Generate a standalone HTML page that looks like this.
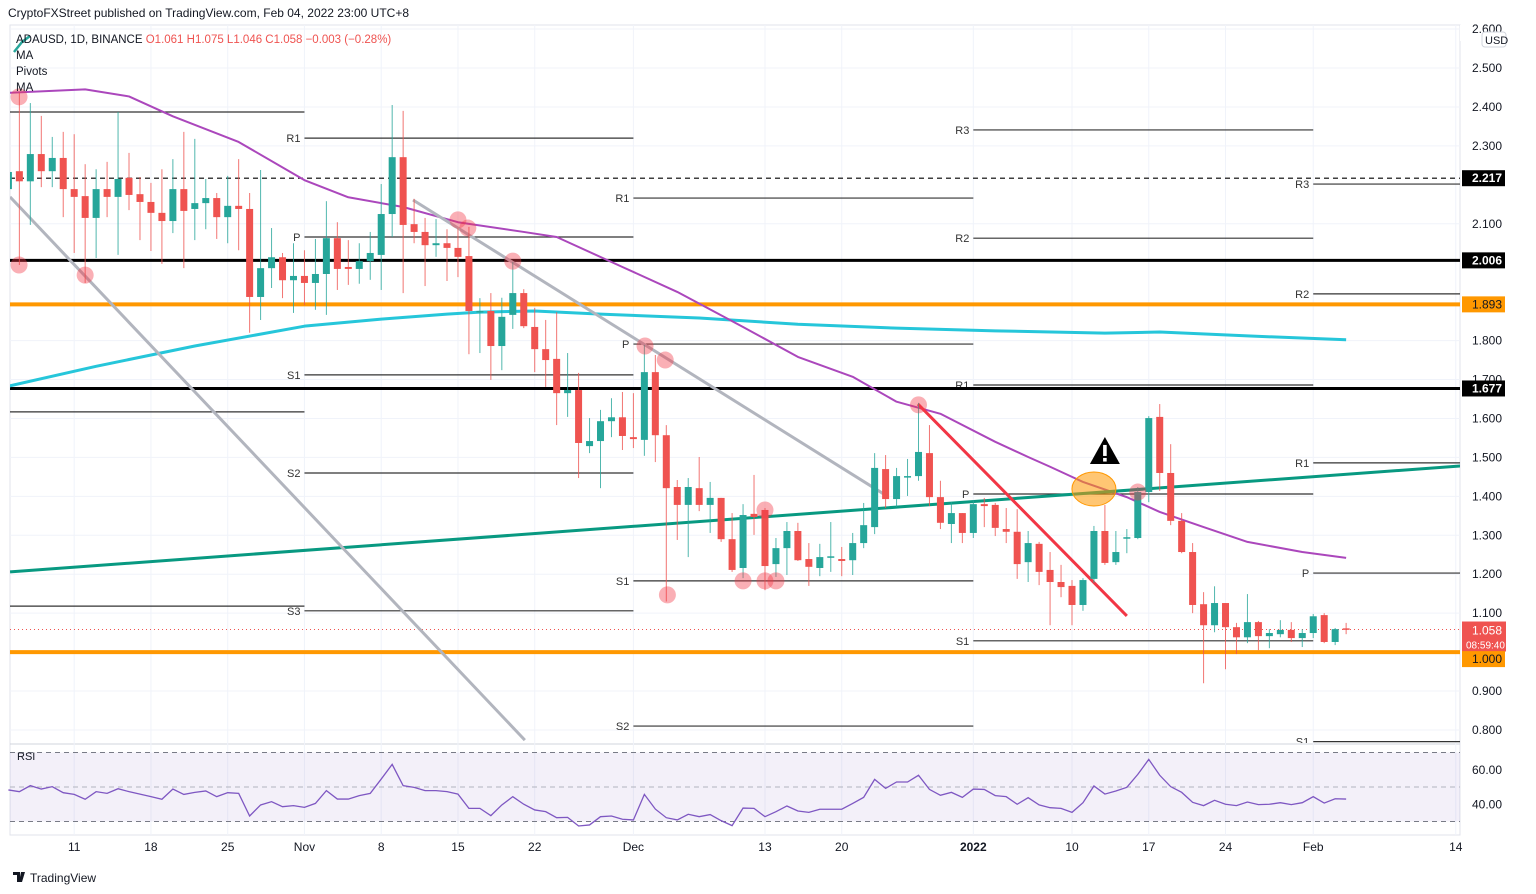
<!DOCTYPE html>
<html><head><meta charset="utf-8"><style>
body{margin:0;background:#fff;font-family:"Liberation Sans",sans-serif;}
svg{display:block}
</style></head><body>
<svg id="c" width="1536" height="894" xmlns="http://www.w3.org/2000/svg" font-family="Liberation Sans, sans-serif">
<rect width="1536" height="894" fill="#fff"/>
<text x="8" y="17" font-size="12" fill="#131722">CryptoFXStreet published on TradingView.com, Feb 04, 2022 23:00 UTC+8</text>
<rect x="10" y="25" width="1450" height="810" fill="none" stroke="#e0e3eb"/>
<line x1="1460" y1="25" x2="1460" y2="835" stroke="#e0e3eb"/>
<line x1="10" y1="744" x2="1460" y2="744" stroke="#d1d4dc"/>
<g id="grid"></g>
<g id="main" clip-path="url(#clipMain)"></g>
<g id="rsi"></g>
<g id="axis"></g>
<defs><clipPath id="clipMain"><rect x="10" y="25" width="1450" height="718"/></clipPath></defs>
<g>
<path d="M14 52 L22 42 L30 36" stroke="#26a69a" stroke-width="2.5" fill="none"/>
<text x="16" y="43" font-size="11.5" fill="#131722">ADAUSD, 1D, BINANCE <tspan fill="#ef5350">O1.061 H1.075 L1.046 C1.058 −0.003 (−0.28%)</tspan></text>
<text x="16" y="59" font-size="11.5" fill="#131722">MA</text>
<text x="16" y="75" font-size="11.5" fill="#131722">Pivots</text>
<text x="16" y="91" font-size="11.5" fill="#131722">MA</text>
</g>
<g>
<path d="M13 872 h7 v10 h-3 v-7 h-4z M21 872 h4 l-3 10 h-3z" fill="#131722"/>
<text x="30" y="882" font-size="12" fill="#131722">TradingView</text>
</g>
</svg>
<script>
const opens=[2.189,2.235,2.209,2.279,2.235,2.269,2.189,2.171,2.115,2.189,2.169,2.218,2.176,2.156,2.128,2.107,2.189,2.138,2.153,2.166,2.117,2.146,2.138,1.912,1.986,2.014,1.955,1.966,1.948,1.971,2.063,1.989,1.984,2.004,2.02,2.125,2.271,2.099,2.079,2.045,2.05,2.038,2.017,1.874,1.876,1.786,1.866,1.922,1.835,1.778,1.753,1.665,1.673,1.529,1.542,1.593,1.603,1.552,1.545,1.719,1.557,1.424,1.378,1.421,1.378,1.396,1.29,1.216,1.355,1.365,1.226,1.267,1.311,1.239,1.216,1.244,1.239,1.236,1.28,1.321,1.47,1.393,1.45,1.452,1.511,1.398,1.329,1.357,1.306,1.38,1.378,1.316,1.309,1.231,1.278,1.211,1.18,1.17,1.121,1.188,1.311,1.231,1.292,1.293,1.411,1.604,1.46,1.337,1.257,1.123,1.069,1.126,1.064,1.038,1.077,1.041,1.046,1.057,1.036,1.049,1.095,1.026,1.061];
const highs=[2.25,2.436,2.41,2.377,2.323,2.336,2.33,2.253,2.24,2.259,2.387,2.282,2.22,2.205,2.24,2.266,2.336,2.318,2.215,2.179,2.223,2.266,2.179,2.238,2.089,2.025,2.05,2.032,2.061,2.158,2.104,2.058,2.05,2.079,2.202,2.405,2.39,2.164,2.115,2.112,2.086,2.089,2.092,1.909,1.922,1.91,2.002,1.932,1.884,1.853,1.873,1.768,1.717,1.601,1.622,1.652,1.668,1.665,1.789,1.763,1.583,1.442,1.447,1.501,1.437,1.396,1.357,1.38,1.455,1.37,1.293,1.334,1.332,1.28,1.278,1.334,1.27,1.306,1.383,1.511,1.506,1.473,1.496,1.64,1.583,1.44,1.385,1.357,1.39,1.396,1.383,1.37,1.367,1.311,1.283,1.257,1.224,1.185,1.19,1.324,1.378,1.311,1.316,1.424,1.606,1.637,1.534,1.357,1.28,1.154,1.169,1.126,1.075,1.149,1.08,1.059,1.082,1.077,1.059,1.098,1.1,1.062,1.075];
const lows=[2.16,1.994,2.097,2.194,2.194,2.117,2.025,1.948,2.012,2.117,2.02,2.135,2.058,2.03,1.997,2.076,1.986,2.058,2.086,2.061,2.05,2.032,1.82,1.853,1.935,1.909,1.871,1.891,1.879,1.866,1.93,1.943,1.946,1.956,1.93,2.066,1.922,2.05,1.94,2.015,1.953,1.963,1.765,1.768,1.699,1.724,1.83,1.832,1.719,1.681,1.583,1.604,1.447,1.511,1.421,1.552,1.519,1.524,1.504,1.488,1.13,1.288,1.244,1.362,1.306,1.283,1.206,1.19,1.301,1.159,1.193,1.198,1.234,1.17,1.195,1.206,1.195,1.198,1.267,1.303,1.37,1.373,1.401,1.44,1.375,1.316,1.28,1.28,1.293,1.321,1.298,1.28,1.188,1.18,1.172,1.069,1.141,1.069,1.106,1.178,1.224,1.224,1.254,1.29,1.385,1.414,1.326,1.254,1.1,0.92,1.051,0.956,0.995,1.023,1.005,1.01,1.038,1.026,1.013,1.036,1.023,1.018,1.046];
const closes=[2.233,2.209,2.279,2.235,2.269,2.189,2.169,2.115,2.189,2.169,2.215,2.174,2.156,2.128,2.107,2.189,2.133,2.153,2.166,2.117,2.146,2.138,1.912,1.986,2.014,1.955,1.966,1.948,1.971,2.063,1.984,1.984,2.004,2.025,2.125,2.271,2.097,2.079,2.045,2.05,2.038,2.015,1.876,1.876,1.786,1.861,1.922,1.837,1.778,1.75,1.665,1.673,1.537,1.542,1.593,1.603,1.555,1.547,1.719,1.557,1.421,1.378,1.424,1.378,1.396,1.29,1.211,1.352,1.347,1.221,1.267,1.311,1.236,1.219,1.244,1.246,1.234,1.28,1.326,1.473,1.393,1.452,1.452,1.514,1.398,1.332,1.357,1.306,1.38,1.375,1.319,1.309,1.226,1.28,1.206,1.18,1.167,1.121,1.185,1.311,1.229,1.257,1.295,1.411,1.601,1.46,1.337,1.257,1.121,1.069,1.126,1.064,1.038,1.077,1.041,1.049,1.057,1.036,1.049,1.092,1.026,1.059,1.058];
const rsiVals=[48.3,47.3,50.8,48.8,50.2,46.7,45.7,42.9,47.3,46.3,49,47.3,45.9,44.4,42.9,48.8,45.7,46.9,47.7,44.4,46.7,46.3,33.2,39.6,41.5,38.6,39.2,38.2,40.5,47.9,43,43,45,46.3,54.6,63.1,50.8,49.8,47.9,47.9,47.3,45.9,37.6,37.6,33.4,39.6,44.4,40,36.7,35.7,32.2,32.4,27.4,28,32.8,33.2,31.3,30.9,45.7,37.2,32.2,30.9,34.2,32.8,34,30.5,27.6,37.8,37.6,32.8,35.7,39,36.1,35.3,37.1,37.1,37.1,40.5,44,54.4,49.2,52.9,52.9,56.8,48.6,45.2,46.9,44,48.8,48.6,45,44.4,40,43.8,39.6,38,37.6,35.3,40.9,50.6,45.9,47.7,49.8,57.3,66,56.8,50.2,46.9,41.1,39.2,42.3,40,39.2,41.3,39.8,40,40.9,39.8,40.9,44.4,40.7,43.2,43];
const ma50Days=[-1,7,11,15,21,27,31,36,41,47,50,56,61,67,72,77,81,85,90,93,95,97,98,102,105,109,113,118,122];
const ma50Vals=[2.435,2.445,2.427,2.376,2.31,2.212,2.168,2.143,2.104,2.079,2.066,1.989,1.925,1.835,1.758,1.707,1.643,1.612,1.54,1.501,1.476,1.45,1.437,1.398,1.36,1.321,1.283,1.257,1.242];
const ma200Days=[0,8,17,27,34,40,43,48,54,63,72,81,90,100,105,113,122];
const ma200Vals=[1.683,1.734,1.786,1.837,1.855,1.868,1.873,1.876,1.868,1.858,1.842,1.832,1.825,1.819,1.822,1.812,1.802];
const priceTicks=[2.6,2.5,2.4,2.3,2.1,1.8,1.7,1.6,1.5,1.4,1.3,1.2,1.1,0.9,0.8];
const dateIdx=[6,13,20,27,34,41,48,57,69,76,88,97,104,111,119,132];
const dateLabels=["11","18","25","Nov","8","15","22","Dec","13","20","2022","10","17","24","Feb","14"];
const rsiTicks=[60,40];
const keyLevels=[2.217,2.006,1.893,1.677,1.0];
const keyColors=["#000","#000","#ff9800","#000","#ff9800"];
const pivotStart=[-1,27,57,88,119];
const pivotEnd=[27,57,88,119,133];
const pivotNames=[["","",""],["R1","P","S1","S2","S3"],["R1","P","S1","S2"],["R3","R2","R1","P","S1"],["R3","R2","R1","P","S1"]];
const pivotVals=[[2.387,1.617,1.118],[2.320,2.066,1.712,1.460,1.106],[2.166,1.791,1.183,0.810],[2.341,2.063,1.686,1.406,1.029],[2.202,1.920,1.486,1.203,0.77]];
const circDays=[0.97,0.97,7,41,41.9,46,58.06,59.9,83,60.1,67,69,69,70,103];
const circVals=[2.426,1.994,1.968,2.110,2.089,2.004,1.786,1.750,1.635,1.147,1.183,1.365,1.183,1.183,1.411];
const lastPrice=1.058;

const X=d=>8.4+d*10.965;
const Y=p=>68+(2.5-p)*389.4;
const RY=v=>787-(v-50)*1.725;
const NS="http://www.w3.org/2000/svg";
function mk(tag,parent,attrs){const e=document.createElementNS(NS,tag);for(const k in attrs)e.setAttribute(k,attrs[k]);parent.appendChild(e);return e;}
const grid=document.getElementById('grid'),main=document.getElementById('main'),rsi=document.getElementById('rsi'),axis=document.getElementById('axis');

dateIdx.forEach(d=>{const l=mk('line',grid,{x1:X(d),x2:X(d),y1:25,y2:835,stroke:'#f0f3fa'});

});
priceTicks.forEach(p=>{const l=mk('line',grid,{x1:10,x2:1460,y1:Y(p),y2:Y(p),stroke:'#f0f3fa'});

});

pivotVals.forEach((vals,b)=>{vals.forEach((v,k)=>{
 const x1=Math.max(10,X(pivotStart[b])),x2=X(pivotEnd[b]);
 const l=mk('line',main,{x1:x1,x2:x2,y1:Y(v),y2:Y(v),stroke:'#333','stroke-width':1.2});
 
 
 const nm=pivotNames[b][k];
 if(nm){const t=mk('text',main,{x:x1-4,y:Y(v)+4,'font-size':11,fill:'#333','text-anchor':'end'});t.textContent=nm;
 
 }
});});

keyLevels.forEach((p,i)=>{const w=(keyColors[i]==='#000')?3:4;
 const l=mk('line',main,{x1:10,x2:1460,y1:Y(p),y2:Y(p),stroke:keyColors[i],'stroke-width':(i===0?1.2:w),'stroke-dasharray':(i===0?'5,4':'none')});
 
 });
const lp=mk('line',main,{x1:10,x2:1460,y1:Y(lastPrice),y2:Y(lastPrice),stroke:'#ef5350','stroke-width':1,'stroke-dasharray':'1,3'});



function poly(days,vals,color,w,name){const pts=days.map((d,i)=>X(d)+','+Y(vals[i])).join(' ');
 const p=mk('polyline',main,{points:pts,fill:'none',stroke:color,'stroke-width':w,'stroke-linejoin':'round'});
 
 }
poly(ma200Days,ma200Vals,'#26c6da',3,'ma-200-line');
poly(ma50Days,ma50Vals,'#ab47bc',2,'ma-50-line');

function tl(d1,p1,d2,p2,color,w,name){const l=mk('line',main,{x1:X(d1),y1:Y(p1),x2:X(d2),y2:Y(p2),stroke:color,'stroke-width':w});
 
 }
tl(0.15,1.206,132.4,1.478,'#089981',3,'teal-trendline');
tl(0.15,2.169,47.1,0.774,'#b2b5be',3,'grey-trendline-1');
tl(36.9,2.161,80.0,1.403,'#b2b5be',3,'grey-trendline-2');
tl(82.95,1.637,102.0,1.093,'#f23645',3,'red-trendline');

closes.forEach((c,i)=>{const o=opens[i],up=c>=o,col=up?'#26a69a':'#ef5350',x=X(i);
 const w=mk('line',main,{x1:x,x2:x,y1:Y(highs[i]),y2:Y(lows[i]),stroke:col,'stroke-width':1,opacity:0.8});
 
 
 const top=Y(Math.max(o,c)),h=Math.max(1.5,Math.abs(Y(o)-Y(c)));
 const b=mk('rect',main,{x:x-3.5,y:top,width:7,height:h,fill:col});
 
 });

circDays.forEach((d,i)=>{const c=mk('circle',main,{cx:X(d),cy:Y(circVals[i]),r:8.5,fill:'rgba(242,54,69,0.4)'});
 
 });
const el=mk('ellipse',main,{cx:X(99),cy:Y(1.419),rx:22,ry:17,fill:'rgba(255,152,0,0.55)',stroke:'#ff9800','stroke-width':1});


const tx=X(100),ty=Y(1.514);
const tri=mk('path',main,{d:`M${tx} ${ty-15} L${tx+15} ${ty+12} L${tx-15} ${ty+12} Z`,fill:'#000'});


mk('rect',main,{x:tx-1.8,y:ty-7,width:3.6,height:11,fill:'#fff'});
mk('rect',main,{x:tx-1.8,y:ty+6,width:3.6,height:3.6,fill:'#fff'});

const band=mk('rect',rsi,{x:10,y:RY(70),width:1450,height:RY(30)-RY(70),fill:'rgba(126,87,194,0.09)'});


[70,50,30].forEach(v=>{const l=mk('line',rsi,{x1:10,x2:1460,y1:RY(v),y2:RY(v),stroke:(v===50?'#b2b5be':'#787b86'),'stroke-dasharray':'5,4'});

});
const rl=mk('polyline',rsi,{points:rsiVals.map((v,i)=>X(i)+','+RY(v)).join(' '),fill:'none',stroke:'#7e57c2','stroke-width':1.3});


const rt=mk('text',rsi,{x:17,y:760,'font-size':11,fill:'#131722'});rt.textContent='RSI';


rsiTicks.forEach(v=>{const t=mk('text',axis,{x:1472,y:RY(v)+4,'font-size':12,fill:'#131722'});t.textContent=v.toFixed(2);

});

priceTicks.forEach(p=>{const t=mk('text',axis,{x:1472,y:Y(p)+4,'font-size':12,fill:'#131722'});t.textContent=p.toFixed(3);

});
mk('rect',axis,{x:1460,y:25,width:76,height:16,fill:'#fff'});
const t26=mk('text',axis,{x:1472,y:33,'font-size':12,fill:'#131722'});t26.textContent='2.600';
const ub=mk('rect',axis,{x:1482,y:32,width:24,height:15,rx:3,fill:'#fff',stroke:'#d1d4dc'});


const ut=mk('text',axis,{x:1485,y:44,'font-size':11,fill:'#131722'});ut.textContent='USD';
function tag(p,bg,fg,txt,name,dy){const y=Y(p)+(dy||0);const r=mk('rect',axis,{x:1462,y:y-8,width:43,height:16,fill:bg});
 
 
 const t=mk('text',axis,{x:1472,y:y+4,'font-size':12,fill:fg,'font-weight':(bg==='#000'?'bold':'normal')});t.textContent=txt;}
keyLevels.forEach((p,i)=>{if(p===1.0)return;tag(p,keyColors[i],keyColors[i]==='#000'?'#fff':'#131722',p.toFixed(3),'key-level-tag');});
const lr=mk('rect',axis,{x:1462,y:Y(lastPrice)-8,width:44,height:30,fill:'#ef5350'});


const l1=mk('text',axis,{x:1472,y:Y(lastPrice)+5,'font-size':12,fill:'#fff'});l1.textContent=lastPrice.toFixed(3);
const l2=mk('text',axis,{x:1466,y:Y(lastPrice)+19,'font-size':10,fill:'#fff'});l2.textContent='08:59:40';
tag(1.0,'#ff9800','#131722','1.000','key-level-tag',7);

dateLabels.forEach((s,i)=>{const t=mk('text',axis,{x:X(dateIdx[i]),y:851,'font-size':12,fill:'#131722','text-anchor':'middle','font-weight':(s==='2022'?'bold':'normal')});t.textContent=s;

});
</script>
</body></html>
